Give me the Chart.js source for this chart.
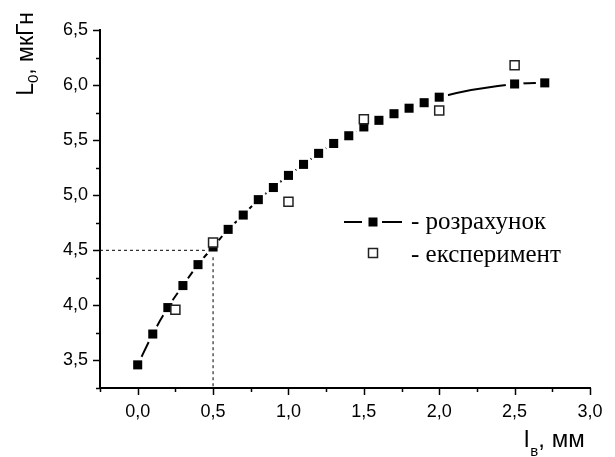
<!DOCTYPE html>
<html><head><meta charset="utf-8">
<script src="https://cdn.jsdelivr.net/npm/chart.js@4/dist/chart.umd.min.js"></script>
<style>html,body{margin:0;padding:0;background:#fff}#wrap{width:615px;height:457px;position:relative}</style>
</head><body><div id="wrap"><canvas id="c" width="615" height="457"></canvas></div>
<script>
// ---- data ----
const calcX = [0.0, 0.1, 0.2, 0.3, 0.4, 0.5, 0.6, 0.7, 0.8, 0.9, 1.0, 1.1, 1.2, 1.3, 1.4, 1.5, 1.6, 1.7, 1.8, 1.9, 2.0, 2.5, 2.7];
const calcY = [3.46, 3.74, 3.98, 4.18, 4.37, 4.53, 4.69, 4.82, 4.96, 5.07, 5.18, 5.28, 5.38, 5.47, 5.54, 5.62, 5.68, 5.74, 5.79, 5.84, 5.89, 6.01, 6.02];
const expX = [0.25, 0.5, 1.0, 1.5, 2.0, 2.5];
const expY = [3.96, 4.57, 4.94, 5.69, 5.77, 6.18];
const guideX = [-0.25, 0.5, 0.5];
const guideY = [4.5, 4.5, 3.25];
const xRange = [-0.25, 3.0];
const yRange = [3.25, 6.5];
const minorStep = 0.25;
const majorStep = 0.5;
const seriesLabels = ['- розрахунок', '- експеримент'];
const yTitleParts = ['L', '0', ', мкГн'];
const xTitleParts = ['l', 'в', ', мм'];

const pts = (xs, ys) => xs.map((x, i) => ({x: x, y: ys[i]}));
const isMajor = v => Math.abs(v / majorStep - Math.round(v / majorStep)) < 1e-6;
const fmt = v => v.toFixed(1).replace('.', ',');
const SANS = '"Liberation Sans", Arial, sans-serif';
const SERIF = '"Liberation Serif", "Times New Roman", serif';

const decor = {
  id: 'decor',
  afterDraw(chart) {
    const ctx = chart.ctx, a = chart.chartArea, xs = chart.scales.x, ys = chart.scales.y;
    ctx.save();
    ctx.strokeStyle = '#000';
    ctx.lineWidth = 1.5;
    xs.ticks.forEach(t => {
      const p = Math.round(xs.getPixelForValue(t.value)) + 0.5;
      const L = isMajor(t.value) ? 7 : 4;
      ctx.beginPath(); ctx.moveTo(p, a.bottom); ctx.lineTo(p, a.bottom + L); ctx.stroke();
    });
    ys.ticks.forEach(t => {
      const p = Math.round(ys.getPixelForValue(t.value)) + 0.5;
      const L = isMajor(t.value) ? 7 : 4;
      ctx.beginPath(); ctx.moveTo(a.left, p); ctx.lineTo(a.left - L, p); ctx.stroke();
    });
    // axis titles
    ctx.fillStyle = '#000';
    ctx.textBaseline = 'alphabetic';
    ctx.textAlign = 'left';
    const big = '23px ' + SANS, small = '15px ' + SANS;
    // y title (rotated)
    ctx.save();
    ctx.font = big; const w1 = ctx.measureText(yTitleParts[0]).width; const w3 = ctx.measureText(yTitleParts[2]).width;
    ctx.font = small; const w2 = ctx.measureText(yTitleParts[1]).width;
    const tot = w1 + w2 + w3;
    ctx.translate(33, 54);
    ctx.rotate(-Math.PI / 2);
    let cx = -tot / 2;
    ctx.font = big; ctx.fillText(yTitleParts[0], cx, 0); cx += w1;
    ctx.font = small; ctx.fillText(yTitleParts[1], cx, 5); cx += w2;
    ctx.font = big; ctx.fillText(yTitleParts[2], cx, 0);
    ctx.restore();
    // x title
    let xx = 524;
    const bigX = '24px ' + SANS;
    ctx.font = bigX; ctx.fillText(xTitleParts[0], xx, 447); xx += ctx.measureText(xTitleParts[0]).width + 1;
    ctx.font = small; ctx.fillText(xTitleParts[1], xx, 456); xx += ctx.measureText(xTitleParts[1]).width;
    ctx.font = bigX; ctx.fillText(xTitleParts[2], xx, 447);
    // legend
    const lx = a.left + 244, ly1 = 222, ly2 = 253;
    ctx.lineWidth = 2;
    ctx.beginPath(); ctx.moveTo(lx, ly1); ctx.lineTo(lx + 18, ly1); ctx.stroke();
    ctx.beginPath(); ctx.moveTo(lx + 38, ly1); ctx.lineTo(lx + 58, ly1); ctx.stroke();
    ctx.fillRect(lx + 29 - 4.5, ly1 - 4.5, 9, 9);
    ctx.lineWidth = 1.5; ctx.strokeStyle = '#222';
    ctx.strokeRect(lx + 29 - 4.5, ly2 - 4.5, 9, 9);
    ctx.font = '25px ' + SERIF;
    ctx.fillStyle = '#000';
    ctx.fillText(seriesLabels[0], a.left + 311, 229);
    ctx.fillText(seriesLabels[1], a.left + 311, 262);
    ctx.restore();
  }
};

new Chart(document.getElementById('c'), {
  type: 'scatter',
  data: {
    datasets: [
      { label: 'експеримент', data: pts(expX, expY), order: 0, showLine: false,
        pointStyle: 'rect', pointRadius: 6.4, pointBackgroundColor: '#fff', pointBorderColor: '#222', pointBorderWidth: 1.5 },
      { label: 'розрахунок', data: pts(calcX, calcY), order: 1, showLine: false,
        pointStyle: 'rect', pointRadius: 6.4, pointBackgroundColor: '#000', pointBorderColor: '#000', pointBorderWidth: 0 },
      { label: 'halo', data: pts(calcX, calcY), order: 2, showLine: false,
        pointStyle: 'circle', pointRadius: 9, pointBackgroundColor: '#fff', pointBorderWidth: 0 },
      { label: 'line', data: pts(calcX, calcY), order: 3, showLine: true, pointRadius: 0,
        borderColor: '#000', borderWidth: 2, cubicInterpolationMode: 'monotone', fill: false },
      { label: 'guide', data: pts(guideX, guideY), order: 4, showLine: true, pointRadius: 0,
        borderColor: '#000', borderWidth: 1, borderDash: [3, 3], fill: false }
    ]
  },
  options: {
    responsive: false,
    animation: false,
    events: [],
    layout: { padding: { top: 30, right: 25, left: 0, bottom: 0 } },
    plugins: { legend: { display: false }, tooltip: { enabled: false } },
    scales: {
      x: {
        type: 'linear', min: xRange[0], max: xRange[1],
        afterFit: s => { s.height = 69; },
        ticks: { stepSize: minorStep, autoSkip: false, maxRotation: 0, padding: 6,
          color: '#000', font: { family: SANS, size: 18 },
          callback: v => isMajor(v) ? fmt(v) : '' },
        grid: { display: true, drawOnChartArea: false, drawTicks: true, tickLength: 7, tickColor: 'rgba(0,0,0,0)' },
        border: { display: true, color: '#000', width: 2 }
      },
      y: {
        type: 'linear', min: yRange[0], max: yRange[1],
        afterFit: s => { s.width = 100; },
        ticks: { stepSize: minorStep, autoSkip: false, padding: 5,
          color: '#000', font: { family: SANS, size: 18 },
          callback: v => isMajor(v) ? fmt(v) : '' },
        grid: { display: true, drawOnChartArea: false, drawTicks: true, tickLength: 7, tickColor: 'rgba(0,0,0,0)' },
        border: { display: true, color: '#000', width: 2 }
      }
    }
  },
  plugins: [decor]
});
</script>
</body></html>
